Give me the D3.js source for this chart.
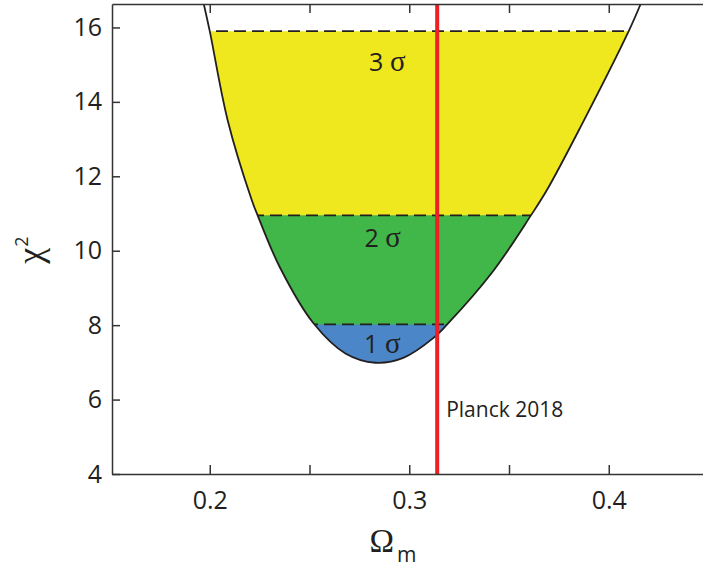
<!DOCTYPE html>
<html>
<head>
<meta charset="utf-8">
<script src="https://cdn.jsdelivr.net/npm/d3@7"></script>
<style>
  body { margin: 0; background: #fff; }
  .tick text { font-family: "Open Sans", sans-serif; font-size: 25px; fill: #231f20; }
  .axis path, .axis line { stroke: #333; stroke-width: 1.5px; }
</style>
</head>
<body>
<div id="chart"></div>
<script>
const width = 703;
const height = 569;

// chi^2 profile
const omega = [0.197, 0.2, 0.209, 0.221, 0.224, 0.235, 0.252, 0.268, 0.283, 0.297, 0.312, 0.319, 0.342, 0.361, 0.369, 0.386, 0.41, 0.416];
const chi2 = [16.63, 15.9, 13.5, 11.37, 10.95, 9.57, 8.05, 7.24, 6.99, 7.12, 7.65, 8.02, 9.45, 10.95, 11.63, 13.34, 15.9, 16.63];

// confidence levels (chi^2 thresholds), drawn from top band down
const sigmaNames = ["3 σ", "2 σ", "1 σ"];
const sigmaLevels = [15.9, 10.95, 8.02];
const sigmaColors = ["#efe81e", "#41b649", "#4a86c8"];

const planckOmega = 0.314;
const planckLabel = "Planck 2018";

const xTicks = [0.2, 0.25, 0.3, 0.35, 0.4, 0.45];
const xLabels = [0.2, 0.3, 0.4];
const yTicks = [4, 6, 8, 10, 12, 14, 16];

const margin = { left: 112, top: 4, bottom: 95 };
const plotH = height - margin.top - margin.bottom;

const svg = d3.select("#chart")
  .append("svg")
  .attr("width", width)
  .attr("height", height);

const x = d3.scaleLinear()
  .domain([0.151, 0.45])
  .range([margin.left, margin.left + 0.299 * 1995]);

const y = d3.scaleLinear()
  .domain([4, 16.63])
  .range([margin.top + plotH, margin.top]);

const pts = omega.map((d, i) => [d, chi2[i]]);

const line = d3.line()
  .x(d => x(d[0]))
  .y(d => y(d[1]))
  .curve(d3.curveCatmullRom.alpha(0.5));

const defs = svg.append("defs");

// plot area clip
defs.append("clipPath").attr("id", "plot-clip")
  .append("rect")
  .attr("x", x.range()[0]).attr("y", y.range()[1])
  .attr("width", width - x.range()[0]).attr("height", plotH);

// inside of the parabola
defs.append("clipPath").attr("id", "inside")
  .append("path")
  .attr("d", line(pts) + "Z");

// one clip per band: everything below the level line
sigmaLevels.forEach((lv, i) => {
  defs.append("clipPath").attr("id", "band" + i)
    .append("rect")
    .attr("x", 0).attr("y", y(lv))
    .attr("width", width).attr("height", y(4) - y(lv));
});

const plot = svg.append("g").attr("clip-path", "url(#plot-clip)");

// filled bands
sigmaLevels.forEach((lv, i) => {
  plot.append("g")
    .attr("clip-path", "url(#band" + i + ")")
    .append("path")
    .attr("d", line(pts) + "Z")
    .attr("fill", sigmaColors[i]);
});

// dashed level lines, cut to the inside of the curve
plot.append("g")
  .attr("clip-path", "url(#inside)")
  .selectAll("line.level")
  .data(sigmaLevels)
  .enter().append("line")
  .attr("class", "level")
  .attr("x1", 0).attr("x2", width)
  .attr("y1", d => y(d)).attr("y2", d => y(d))
  .attr("stroke", "#231f20")
  .attr("stroke-width", 1.8)
  .attr("stroke-dasharray", "12,6");

// the curve itself
plot.append("path")
  .attr("d", line(pts))
  .attr("fill", "none")
  .attr("stroke", "#231f20")
  .attr("stroke-width", 1.8);

// sigma labels
const labelPos = [[0.289, 14.84], [0.2867, 10.09], [0.2865, 7.26]];
sigmaNames.forEach((name, i) => {
  const t = svg.append("text")
    .attr("x", x(labelPos[i][0]))
    .attr("y", y(labelPos[i][1]))
    .attr("text-anchor", "middle")
    .attr("fill", "#231f20");
  const parts = name.split(" ");
  t.append("tspan")
    .attr("font-family", "Open Sans, sans-serif")
    .attr("font-size", 25)
    .text(parts[0] + " ");
  t.append("tspan")
    .attr("font-family", "Liberation Serif, serif")
    .attr("font-size", 29)
    .text(parts[1]);
});

// Planck line
svg.append("line")
  .attr("x1", x(planckOmega)).attr("x2", x(planckOmega))
  .attr("y1", y.range()[1]).attr("y2", y.range()[0])
  .attr("stroke", "#ed2024")
  .attr("stroke-width", 4);

svg.append("text")
  .attr("x", x(planckOmega) + 9)
  .attr("y", y(5.53))
  .attr("font-family", "Open Sans, sans-serif")
  .attr("font-size", 21)
  .attr("fill", "#231f20")
  .text(planckLabel);

// axes
svg.append("g")
  .attr("class", "axis")
  .attr("transform", `translate(${x.range()[0]},0)`)
  .call(d3.axisLeft(y).tickValues(yTicks).tickSize(-8).tickSizeOuter(0).tickPadding(10)
    .tickFormat(d3.format("d")));

svg.append("g")
  .attr("class", "axis")
  .attr("transform", `translate(0,${y.range()[0]})`)
  .call(d3.axisBottom(x).tickValues(xTicks).tickSize(-9).tickSizeOuter(0).tickPadding(17)
    .tickFormat(d => xLabels.includes(d) ? d3.format(".1f")(d) : ""));

svg.append("g")
  .attr("class", "axis")
  .attr("transform", `translate(0,${y.range()[1]})`)
  .call(d3.axisTop(x).tickValues(xTicks).tickSize(-9).tickSizeOuter(0).tickFormat(""));

// axis titles
const xt = svg.append("text")
  .attr("x", 393)
  .attr("y", 552)
  .attr("text-anchor", "middle")
  .attr("fill", "#231f20");
xt.append("tspan")
  .attr("font-family", "Liberation Serif, serif")
  .attr("font-size", 33)
  .text("Ω");
xt.append("tspan")
  .attr("font-family", "Open Sans, sans-serif")
  .attr("font-size", 21)
  .attr("dx", 3)
  .attr("dy", 10)
  .text("m");

const yt = svg.append("text")
  .attr("transform", "translate(42,250) rotate(-90)")
  .attr("text-anchor", "middle")
  .attr("fill", "#231f20");
yt.append("tspan")
  .attr("font-family", "Liberation Serif, serif")
  .attr("font-size", 36)
  .text("χ");
yt.append("tspan")
  .attr("font-family", "Open Sans, sans-serif")
  .attr("font-size", 18)
  .attr("dx", 1)
  .attr("dy", -14)
  .text("2");
</script>
</body>
</html>
